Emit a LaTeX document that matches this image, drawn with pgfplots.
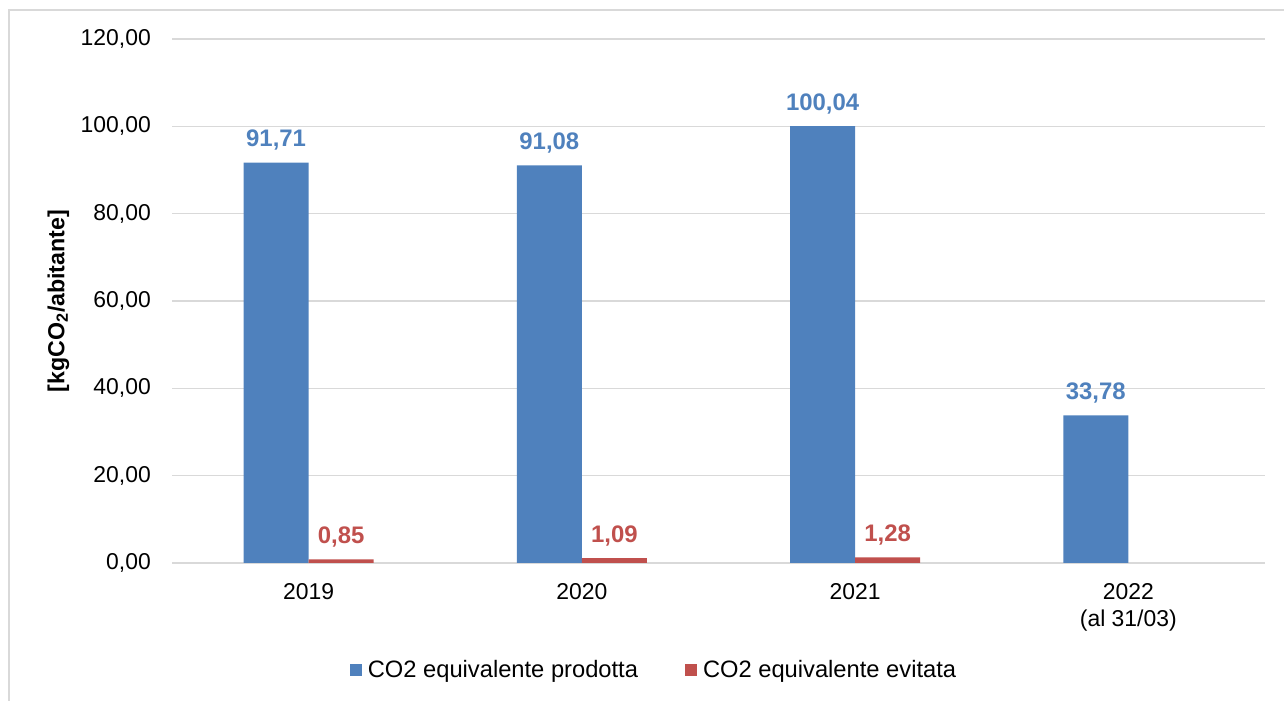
\documentclass[border=0pt]{standalone}
\usepackage{fontspec}
\setmainfont{Liberation Sans}
\usepackage{pgfplots}
\usepackage{pgfplotstable}
\pgfplotsset{compat=1.18}
\definecolor{prodotta}{HTML}{4F81BD}
\definecolor{evitata}{HTML}{C0504D}
\definecolor{griglia}{HTML}{D9D9D9}

\pgfplotstableread{
x y
0 91.71
1 91.08
2 100.04
3 33.78
}\tabprodotta
\pgfplotstableread{
x y
0 0.85
1 1.09
2 1.28
}\tabevitata

\pgfkeys{/pgf/number format/assume math mode=true}
\pgfplotsset{
  sq legend/.style={legend image code/.code={\fill[##1,draw=none] (0bp,-6bp) rectangle (12bp,6bp); \path (16bp,0bp);}},
  etichetta/.style={nodes near coords={\pgfmathprintnumber[fixed,fixed zerofill,precision=2,use comma,1000 sep={}]{\pgfplotspointmeta}},
    every node near coord/.append style={anchor=base, inner sep=0pt, yshift=16bp,
      font=\bfseries\fontsize{24}{28}\selectfont, text=#1}},
}

\begin{document}
\begin{tikzpicture}
\useasboundingbox (0,0) rectangle (1284bp,701bp);
\draw[griglia, line width=1.5bp] (9bp,0) -- (9bp,691bp) -- (1284bp,691bp);
\begin{axis}[
  at={(172bp,138bp)}, anchor=south west,
  scale only axis, width=1093bp, height=524bp,
  ybar=0pt, bar width=0.238,
  ymin=0, ymax=120, ytick distance=20,
  xmin=-0.5, xmax=3.5,
  xtick={0,1,2,3},
  xticklabels={2019,2020,2021,{2022\\(al 31/03)}},
  yticklabel={\pgfmathprintnumber[fixed,fixed zerofill,precision=2,use comma,1000 sep={}]{\tick}},
  axis line style={draw=none}, tick style={draw=none},
  ymajorgrids, grid style={griglia, line width=1.3bp},
  xticklabel style={anchor=north, inner sep=0pt, yshift=-16bp, align=center,
    font=\fontsize{23}{27}\selectfont},
  yticklabel style={anchor=east, inner sep=0pt, xshift=-21bp,
    font=\fontsize{23}{27}\selectfont},
  ylabel={[kgCO\textsubscript{2}/abitante]},
  every axis y label/.style={at={(axis description cs:-0.104,0.5)}, rotate=90, anchor=center,
    font=\bfseries\fontsize{23.3}{27}\selectfont},
  legend style={at={(axis description cs:0.441,-0.204)}, anchor=center, draw=none,
    font=\fontsize{23.8}{28}\selectfont,
    /tikz/every even column/.append style={column sep=45bp}},
  legend columns=2,
]
\addplot[fill=prodotta, draw=none, bar shift=-0.119, sq legend, etichetta=prodotta] table[x=x,y=y] {\tabprodotta};
\addplot[fill=evitata, draw=none, bar shift=0.119, sq legend, etichetta=evitata] table[x=x,y=y] {\tabevitata};
\legend{CO2 equivalente prodotta, CO2 equivalente evitata}
\end{axis}
\end{tikzpicture}
\end{document}
